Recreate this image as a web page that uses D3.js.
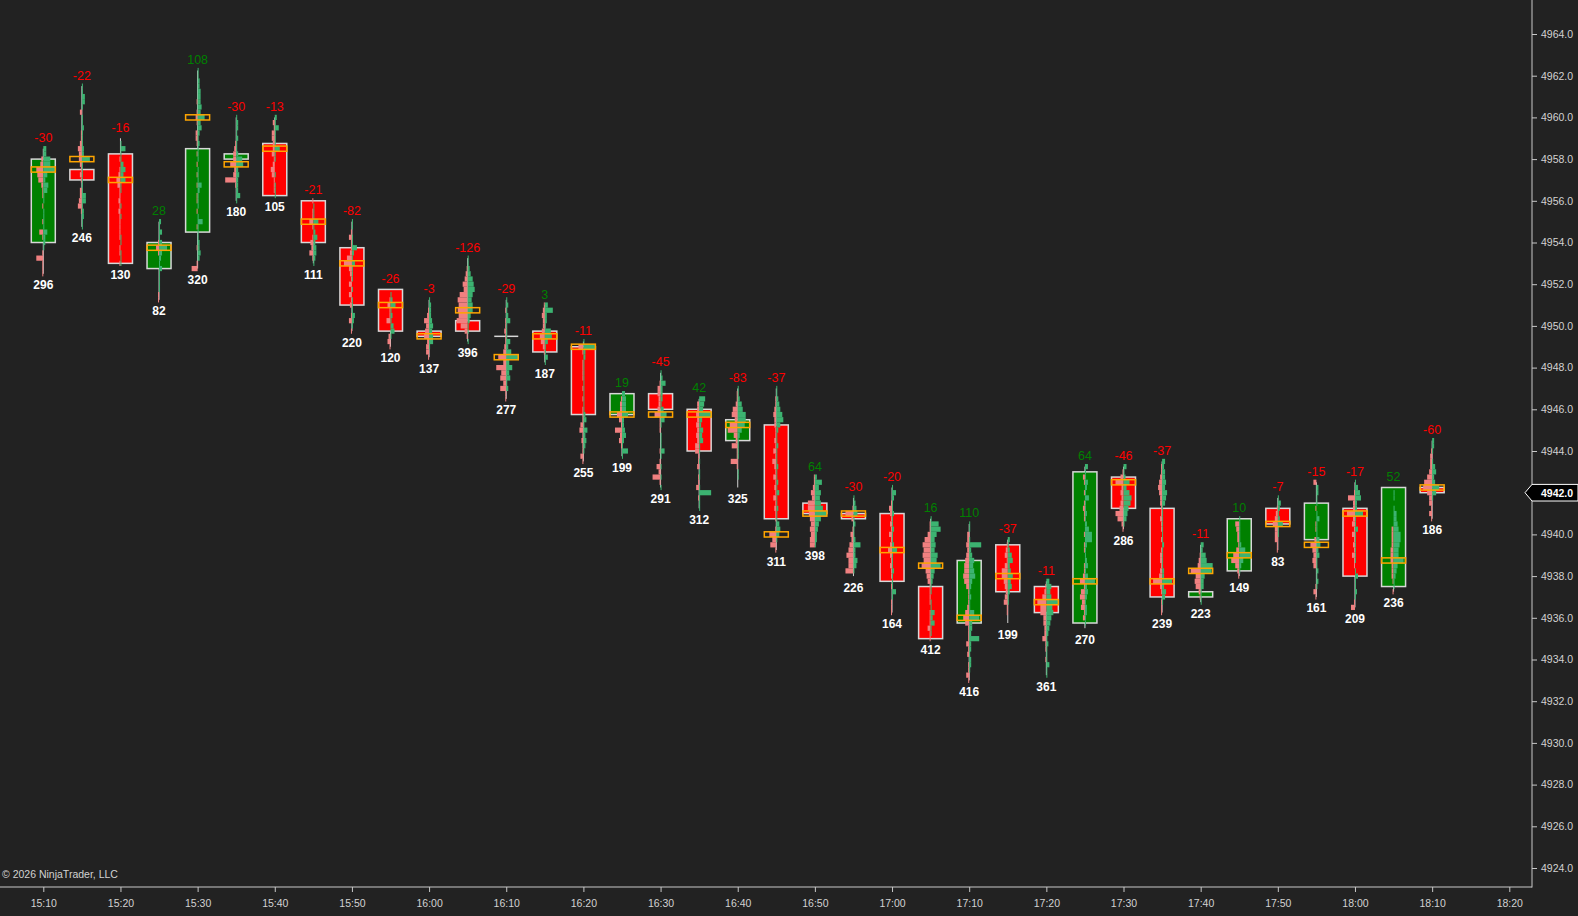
<!DOCTYPE html>
<html>
<head>
<meta charset="utf-8">
<script src="https://cdn.jsdelivr.net/npm/d3@7"></script>
<style>
html, body { margin: 0; padding: 0; background: #222222; overflow: hidden; }
svg { display: block; font-family: "Liberation Sans", Arial, sans-serif; }
</style>
</head>
<body>
<div id="container"></div>
<script>
// 5 minute bars, volumetric profile per bar
const times = ['15:10','15:15','15:20','15:25','15:30','15:35','15:40','15:45','15:50','15:55',
    '16:00','16:05','16:10','16:15','16:20','16:25','16:30','16:35','16:40','16:45',
    '16:50','16:55','17:00','17:05','17:10','17:15','17:20','17:25','17:30','17:35',
    '17:40','17:45','17:50','17:55','18:00','18:05','18:10'];
const opens = [4954.0,4957.5,4958.25,4952.75,4954.5,4958.0,4958.75,4956.0,4953.75,4951.75,
    4949.75,4950.25,4949.5,4949.75,4949.0,4945.75,4946.75,4946.0,4944.5,4945.25,
    4941.5,4941.0,4941.0,4937.5,4935.75,4939.5,4937.5,4935.75,4942.75,4941.25,
    4937.0,4938.25,4941.25,4939.75,4941.25,4937.5,4942.25];
const highs = [4958.5,4961.5,4959.0,4955.0,4962.25,4960.0,4960.0,4956.0,4955.0,4951.75,
    4951.25,4953.25,4951.25,4951.0,4949.25,4946.75,4947.75,4946.5,4947.0,4947.0,
    4942.75,4941.75,4942.25,4940.75,4940.5,4939.75,4937.75,4943.25,4943.25,4943.5,
    4939.5,4940.75,4941.75,4942.5,4942.5,4942.25,4944.5];
const lows = [4952.5,4954.75,4953.0,4951.25,4952.75,4956.0,4956.25,4953.0,4949.75,4949.0,
    4948.5,4949.25,4946.5,4948.25,4943.5,4943.75,4942.25,4941.25,4942.25,4939.25,
    4939.5,4938.0,4936.25,4935.0,4933.0,4935.75,4933.25,4935.5,4940.25,4936.25,
    4936.75,4938.0,4939.25,4937.0,4936.5,4937.25,4940.75];
const closes = [4958.0,4957.0,4953.0,4954.0,4958.5,4958.25,4956.25,4954.0,4951.0,4949.75,
    4949.5,4949.75,4949.5,4948.75,4945.75,4946.75,4946.0,4944.0,4945.5,4940.75,
    4941.0,4940.75,4937.75,4935.0,4938.75,4937.25,4936.25,4943.0,4941.25,4937.0,
    4937.25,4940.75,4940.5,4941.5,4938.0,4942.25,4942.0];
const deltas = [-30,-22,-16,28,108,-30,-13,-21,-82,-26,
    -3,-126,-29,3,-11,19,-45,42,-83,-37,
    64,-30,-20,16,110,-37,-11,64,-46,-37,
    -11,10,-7,-15,-17,52,-60];
const volumes = [296,246,130,82,320,180,105,111,220,120,
    137,396,277,187,255,199,291,312,325,311,
    398,226,164,412,416,199,361,270,286,239,
    223,149,83,161,209,236,186];
const pocs = [4957.5,4958.0,4957.0,4953.75,4960.0,4957.75,4958.5,4955.0,4953.0,4951.0,
    4949.5,4950.75,4948.5,4949.5,4949.0,4945.75,4945.75,4945.75,4945.25,4940.0,
    4941.0,4941.0,4939.25,4938.5,4936.0,4938.0,4936.75,4937.75,4942.5,4937.75,
    4938.25,4939.0,4940.5,4939.5,4941.0,4938.75,4942.25];

// sell / buy volume per price level, from the bar high downwards (one level = 0.25)
const sellProfile = [
    [0,0,2,3,7,6,5,2,1,1,0,1,0,0,1,0,4,1,0,0,1,7,1,1,1],
    [0,0,0,0,0,2,0,0,0,1,1,2,4,3,3,2,1,2,1,0,2,2,3,4,1,0,0,0],
    [0,0,0,0,1,0,1,2,4,3,1,1,2,1,2,1,1,1,1,1,0,1,1,0,1],
    [0,0,0,0,1,3,1,0,0,0,0,0,0,0,1,1],
    [0,0,0,0,0,0,1,0,1,2,1,0,2,2,1,0,1,0,1,0,1,0,1,0,1,1,0,1,0,0,1,0,0,0,1,0,0,1,6],
    [0,0,0,0,0,1,2,3,3,6,2,3,11,1,0,0,0],
    [0,2,1,3,3,2,2,3,1,2,4,3,1,1,1,0],
    [1,0,1,1,4,1,0,1,3,2,4,1,0],
    [0,0,1,3,1,1,2,5,8,3,2,1,3,1,3,1,2,0,1,3,0,1],
    [0,0,1,3,1,1,4,0,0,2,3,1],
    [0,0,1,2,5,3,4,5,2,3,3,1],
    [0,0,1,2,3,5,4,8,10,9,10,9,11,7,3,1,0],
    [0,0,1,0,1,1,2,1,1,2,3,8,3,10,5,6,3,6,1,1],
    [1,2,3,2,2,3,5,4,2,1,0,0],
    [0,5,1,0,1,1,1,1,0,1,0,1,0,1,1,1,3,4,1,2,1,1,3,1],
    [0,1,2,2,5,3,1,7,2,3,1,0,0],
    [0,0,1,3,3,2,2,3,6,1,1,1,0,0,0,1,0,1,4,2,8,1,0],
    [0,2,2,3,2,3,2,3,2,4,4,1,1,2,0,1,1,3,0,1,0,0],
    [0,1,1,2,5,6,3,8,10,4,2,6,1,1,7,1,0,0,0,0],
    [0,0,1,1,2,3,2,2,1,1,2,1,3,1,4,2,1,3,1,2,1,3,1,2,1,1,0,1,7,4,6,1],
    [1,1,2,4,3,7,7,6,5,4,5,4,5,5],
    [0,0,1,8,2,0,1,3,2,4,5,7,5,5,8,0],
    [0,0,0,1,3,2,1,2,1,3,1,2,4,2,1,2,1,1,0,1,0,0,1,1,1],
    [0,1,1,3,6,8,7,8,7,9,5,4,3,1,1,1,1,0,1,1,1,3,1,1],
    [0,0,2,2,3,2,3,4,5,5,6,5,3,1,1,1,2,4,6,4,1,1,1,3,1,2,0,1,1,3,1],
    [0,1,2,3,1,3,6,6,4,3,2,3,4,1,1,0,0],
    [0,1,2,4,9,6,6,3,3,2,2,4,1,1,0,1,0,0,0],
    [0,0,2,1,0,1,0,1,2,1,1,0,0,1,0,1,1,0,0,1,1,2,5,1,4,5,3,4,1,2,0,0],
    [0,1,3,8,2,3,2,3,4,8,6,2,1],
    [0,1,1,2,3,4,3,2,2,1,1,2,1,1,0,1,0,1,2,2,1,2,3,9,2,1,0,1,1,1],
    [0,0,1,2,3,10,5,6,5,2,1,0],
    [0,4,3,2,2,1,3,6,8,4,2,1],
    [0,0,1,2,3,5,3,3,3,1,1],
    [3,0,0,0,0,1,0,0,1,1,0,2,6,4,3,4,3,0,0,0,1,3,1],
    [0,0,1,7,2,2,8,2,3,1,3,1,2,1,3,1,1,0,0,0,0,0,0,1,4],
    [0,0,0,0,0,0,0,0,2,2,2,2,3,3,3,2,2,2,1,0,1],
    [0,0,1,2,2,2,3,5,8,9,5,3,3,1,3,1]
];
const buyProfile = [
    [3,3,7,7,11,4,2,5,4,1,1,0,1,1,1,1,4,2,2,1,0,0,0,0,0],
    [1,1,3,3,1,0,1,1,2,1,1,1,2,2,8,1,1,1,1,1,1,4,4,1,2,2,1,1],
    [0,1,5,1,1,3,5,3,5,1,1,0,0,1,0,1,0,0,0,1,1,0,1,1,1],
    [2,1,3,1,3,8,3,2,1,3,1,1,1,1,0,0],
    [1,1,2,2,3,3,3,4,3,7,3,4,2,1,2,1,1,1,0,1,1,1,4,2,1,1,1,0,1,5,1,1,1,2,2,3,2,0,0],
    [1,2,2,1,2,1,1,2,6,7,2,3,2,2,2,4,1],
    [2,1,4,1,1,1,5,1,1,0,0,1,0,1,1,1],
    [0,1,1,1,5,1,2,4,2,3,3,2,1],
    [1,1,0,1,1,5,2,1,3,1,1,1,0,1,0,1,1,1,3,2,1,0],
    [0,1,2,5,1,2,1,3,4,1,0,0],
    [1,2,2,2,3,4,3,4,4,1,0,0],
    [1,1,2,3,5,6,7,5,4,5,5,3,2,1,1,0,1],
    [1,2,1,2,4,1,1,1,4,2,5,12,3,6,3,4,1,2,0,0],
    [3,8,2,2,1,6,7,3,1,1,3,1],
    [1,12,2,2,1,1,1,1,1,1,1,1,1,1,2,3,1,4,2,3,2,1,0,0],
    [3,4,4,4,6,2,2,3,4,2,1,6,1],
    [1,2,5,2,2,2,1,3,6,4,1,0,1,1,1,4,1,0,1,0,1,0,1],
    [6,5,4,12,3,2,4,3,4,1,1,0,1,0,1,1,0,1,12,1,1,1],
    [1,1,2,4,5,8,8,7,4,2,1,1,1,1,0,0,1,1,0,0],
    [1,1,2,3,4,6,7,4,2,1,1,2,1,1,1,2,1,1,2,1,3,1,1,2,1,1,3,4,3,1,0,0],
    [2,7,4,6,5,6,8,12,6,4,3,2,2,1],
    [1,2,3,4,1,2,1,1,2,7,2,2,4,3,1,0],
    [1,4,2,1,1,2,1,1,2,1,1,2,5,1,1,1,2,1,1,1,4,1,0,0,0],
    [1,8,10,6,4,5,4,7,6,10,4,3,2,1,1,0,1,1,4,2,4,1,1,0],
    [1,1,0,1,12,2,3,5,4,5,6,3,2,1,2,1,1,5,10,3,3,2,10,2,2,1,2,2,1,0,0],
    [2,1,2,4,5,2,3,5,3,4,2,1,1,0,0,0,0],
    [3,5,4,5,12,6,7,5,4,3,2,1,2,1,1,1,3,1,1],
    [3,1,1,3,2,1,4,1,1,2,1,2,4,7,7,2,1,1,2,3,1,3,10,2,3,2,1,2,2,1,1,0],
    [3,1,2,6,3,6,8,7,5,4,3,1,0],
    [3,2,3,3,4,3,5,4,3,1,1,1,1,1,1,1,2,1,1,1,1,2,2,10,2,4,3,1,0,0],
    [3,2,5,6,12,11,4,3,3,1,1,1],
    [1,1,1,1,1,2,6,12,4,2,1,0],
    [1,3,2,1,2,5,1,1,0,0,0],
    [0,2,2,1,1,0,1,3,1,1,1,3,4,2,3,1,1,2,1,2,1,0,0],
    [1,3,5,6,2,2,8,1,1,3,1,1,1,1,1,1,0,1,3,1,1,2,1,0,0],
    [0,1,1,0,1,3,3,4,5,7,7,6,5,5,10,4,3,2,1,1,0],
    [2,2,1,0,1,3,4,2,3,7,4,1,0,0,0,0]
];
const priceTicks = d3.range(4924, 4965, 2);
const lastPrice = 4942.0;
const tickSize = 0.25;

const width = 1578;
const height = 916;
const plotRight = 1532;
const plotBottom = 887;
const barWidth = 24;

const parseTime = d3.timeParse('%H:%M');
const bars = times.map((t, i) => ({
    time: parseTime(t),
    open: opens[i],
    high: highs[i],
    low: lows[i],
    close: closes[i],
    delta: deltas[i],
    volume: volumes[i],
    poc: pocs[i],
    sell: sellProfile[i],
    buy: buyProfile[i]
}));

const x = d3.scaleTime()
    .domain([parseTime('15:10'), parseTime('18:20')])
    .range([43.3, 1509.3]);
const y = d3.scaleLinear()
    .domain([4924, 4964])
    .range([868, 34]);
const rowH = Math.abs(y(0) - y(tickSize));
const profW = d3.scaleLinear().domain([0, 12]).range([0, barWidth / 2]);

const svg = d3.select('#container').append('svg')
    .attr('width', width)
    .attr('height', height);

svg.append('rect')
    .attr('width', width)
    .attr('height', height)
    .attr('fill', '#222222');

// axes
const yAxis = d3.axisRight(y)
    .tickValues(priceTicks)
    .tickSize(5)
    .tickPadding(4)
    .tickFormat(d3.format('.1f'));
const gy = svg.append('g')
    .attr('transform', `translate(${plotRight},0)`)
    .call(yAxis);
const xAxis = d3.axisBottom(x)
    .ticks(d3.timeMinute.every(10))
    .tickSize(5)
    .tickPadding(8)
    .tickFormat(d3.timeFormat('%H:%M'));
const gx = svg.append('g')
    .attr('transform', `translate(0,${plotBottom})`)
    .call(xAxis);

[gx, gy].forEach(g => {
    g.select('.domain').remove();
    g.selectAll('line').attr('stroke', '#c8c8c8');
    g.selectAll('text')
        .attr('fill', '#d2d2d2')
        .style('font-size', '10.5px')
        .style('font-family', '"Liberation Sans", Arial, sans-serif');
});

svg.append('line')
    .attr('x1', plotRight).attr('x2', plotRight)
    .attr('y1', 0).attr('y2', plotBottom + 0.5)
    .attr('stroke', '#c8c8c8');
svg.append('line')
    .attr('x1', 0).attr('x2', plotRight)
    .attr('y1', plotBottom).attr('y2', plotBottom)
    .attr('stroke', '#c8c8c8');

svg.append('text')
    .attr('x', 2)
    .attr('y', 874)
    .attr('dominant-baseline', 'central')
    .attr('fill', '#d2d2d2')
    .style('font-size', '10.5px')
    .text('© 2026 NinjaTrader, LLC');

// candles
const candle = svg.append('g').selectAll('g')
    .data(bars)
    .join('g')
    .attr('transform', d => `translate(${x(d.time)},0)`);

candle.append('line')
    .attr('y1', d => y(d.high))
    .attr('y2', d => y(d.low))
    .attr('stroke', '#cfcfcf')
    .attr('stroke-width', 1);

candle.filter(d => d.open !== d.close)
    .append('rect')
    .attr('x', -barWidth / 2)
    .attr('y', d => y(Math.max(d.open, d.close)))
    .attr('width', barWidth)
    .attr('height', d => Math.abs(y(d.open) - y(d.close)))
    .attr('fill', d => d.close > d.open ? '#008000' : '#ff0000')
    .attr('stroke', '#d8d8d8')
    .attr('stroke-width', 1.5);

candle.filter(d => d.open === d.close)
    .append('line')
    .attr('x1', -barWidth / 2)
    .attr('x2', barWidth / 2)
    .attr('y1', d => y(d.open))
    .attr('y2', d => y(d.open))
    .attr('stroke', '#d8d8d8')
    .attr('stroke-width', 1.5);

// volume profile, sells to the left and buys to the right
candle.each(function (d) {
    const g = d3.select(this);
    const rows = d.sell.map((s, j) => ({ price: d.high - j * tickSize, sell: s, buy: d.buy[j] }));
    g.selectAll('rect.sell')
        .data(rows.filter(r => r.sell > 0))
        .join('rect')
        .attr('class', 'sell')
        .attr('x', r => -profW(r.sell))
        .attr('y', r => y(r.price) - rowH / 2)
        .attr('width', r => profW(r.sell))
        .attr('height', rowH)
        .attr('fill', '#f08080');
    g.selectAll('rect.buy')
        .data(rows.filter(r => r.buy > 0))
        .join('rect')
        .attr('class', 'buy')
        .attr('x', 0)
        .attr('y', r => y(r.price) - rowH / 2)
        .attr('width', r => profW(r.buy))
        .attr('height', rowH)
        .attr('fill', '#3cb371');
});

candle.append('rect')
    .attr('x', -barWidth / 2)
    .attr('y', d => y(d.poc) - rowH / 2)
    .attr('width', barWidth)
    .attr('height', rowH)
    .attr('fill', 'none')
    .attr('stroke', '#ffa500')
    .attr('stroke-width', 1.5);

candle.append('text')
    .attr('y', d => y(d.high) - 10.5)
    .attr('text-anchor', 'middle')
    .attr('dominant-baseline', 'central')
    .attr('fill', d => d.delta >= 0 ? '#008000' : '#ff0000')
    .style('font-size', '12.5px')
    .text(d => d.delta);

candle.append('text')
    .attr('y', d => y(d.low) + 11.5)
    .attr('text-anchor', 'middle')
    .attr('dominant-baseline', 'central')
    .attr('fill', '#ffffff')
    .style('font-size', '12px')
    .style('font-weight', 'bold')
    .text(d => d.volume);

// last price marker
const ly = y(lastPrice);
svg.append('path')
    .attr('d', `M${plotRight - 7},${ly} L${plotRight},${ly - 8.3} L${width},${ly - 8.3} L${width},${ly + 8.3} L${plotRight},${ly + 8.3} Z`)
    .attr('fill', '#000000')
    .attr('stroke', '#ffffff')
    .attr('stroke-width', 1);
svg.append('text')
    .attr('x', 1541)
    .attr('y', ly)
    .attr('dominant-baseline', 'central')
    .attr('fill', '#ffffff')
    .style('font-size', '10.5px')
    .style('font-weight', 'bold')
    .text(d3.format('.1f')(lastPrice));
</script>
</body>
</html>
